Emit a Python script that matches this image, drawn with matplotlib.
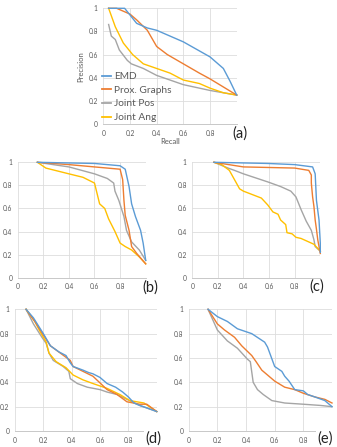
import matplotlib
matplotlib.use("Agg")
import matplotlib.pyplot as plt
from matplotlib.lines import Line2D

plt.rcParams['font.family'] = ['Lato', 'DejaVu Sans']

W, H = 337, 447
series_names = ["EMD", "Prox. Graphs", "Joint Pos", "Joint Ang"]
colors = ["#5B9BD5", "#ED7D31", "#A5A5A5", "#FFC000"]
tick_vals = [0, 0.2, 0.4, 0.6, 0.8, 1.0]
tick_labels = ["0", "0.2", "0.4", "0.6", "0.8", "1"]

# ---- panel (a) ----
a_emd_x = [0.04, 0.16, 0.25, 0.33, 0.40, 0.60, 0.80, 0.90, 0.95, 1.00]
a_emd_y = [1.00, 1.00, 0.87, 0.83, 0.81, 0.71, 0.58, 0.48, 0.37, 0.25]
a_prox_x = [0.04, 0.10, 0.20, 0.25, 0.33, 0.40, 0.48, 0.60, 0.72, 0.80, 0.90, 1.00]
a_prox_y = [1.00, 1.00, 0.95, 0.90, 0.81, 0.67, 0.60, 0.52, 0.44, 0.39, 0.32, 0.25]
a_pos_x = [0.04, 0.06, 0.09, 0.12, 0.18, 0.21, 0.30, 0.40, 0.60, 0.80, 1.00]
a_pos_y = [0.86, 0.76, 0.73, 0.64, 0.55, 0.52, 0.48, 0.42, 0.34, 0.29, 0.25]
a_ang_x = [0.04, 0.09, 0.15, 0.22, 0.30, 0.40, 0.50, 0.60, 0.72, 0.80, 0.90, 1.00]
a_ang_y = [1.00, 0.84, 0.70, 0.60, 0.52, 0.48, 0.44, 0.38, 0.35, 0.31, 0.27, 0.25]

# ---- panel (b) ----
b_emd_x = [0.154, 0.60, 0.80, 0.84, 0.87, 0.89, 0.92, 0.96, 0.98, 1.00]
b_emd_y = [1.00, 0.99, 0.97, 0.94, 0.79, 0.64, 0.53, 0.41, 0.30, 0.15]
b_prox_x = [0.154, 0.40, 0.60, 0.80, 0.82, 0.83, 0.84, 0.87, 0.89, 0.93, 1.00]
b_prox_y = [1.00, 0.98, 0.96, 0.94, 0.85, 0.67, 0.54, 0.41, 0.27, 0.21, 0.12]
b_pos_x = [0.154, 0.40, 0.60, 0.70, 0.75, 0.76, 0.79, 0.83, 0.85, 0.89, 0.95, 1.00]
b_pos_y = [1.00, 0.96, 0.90, 0.86, 0.82, 0.75, 0.67, 0.53, 0.41, 0.31, 0.24, 0.15]
b_ang_x = [0.154, 0.22, 0.40, 0.51, 0.60, 0.62, 0.64, 0.68, 0.71, 0.76, 0.80, 0.84, 0.89, 0.95, 1.00]
b_ang_y = [1.00, 0.95, 0.90, 0.87, 0.82, 0.73, 0.64, 0.60, 0.51, 0.40, 0.30, 0.27, 0.24, 0.18, 0.12]

# ---- panel (c) ----
c_emd_x = [0.17, 0.59, 0.80, 0.94, 0.96, 0.97, 0.99, 1.00, 1.00]
c_emd_y = [1.00, 0.99, 0.98, 0.96, 0.90, 0.67, 0.50, 0.30, 0.22]
c_prox_x = [0.17, 0.40, 0.80, 0.91, 0.93, 0.93, 0.94, 0.95, 0.96, 0.97, 0.98, 1.00]
c_prox_y = [1.00, 0.96, 0.95, 0.93, 0.89, 0.82, 0.70, 0.62, 0.50, 0.42, 0.33, 0.21]
c_pos_x = [0.17, 0.28, 0.33, 0.40, 0.59, 0.69, 0.77, 0.81, 0.85, 0.89, 0.93, 0.95, 0.96, 1.00]
c_pos_y = [1.00, 0.95, 0.93, 0.90, 0.83, 0.79, 0.75, 0.70, 0.59, 0.49, 0.41, 0.33, 0.27, 0.23]
c_ang_x = [0.17, 0.23, 0.29, 0.33, 0.37, 0.40, 0.47, 0.54, 0.59, 0.63, 0.67, 0.69, 0.73, 0.74,
           0.78, 0.81, 0.85, 0.89, 0.95, 1.00]
c_ang_y = [1.00, 0.98, 0.93, 0.85, 0.77, 0.75, 0.72, 0.69, 0.63, 0.57, 0.55, 0.50, 0.46, 0.39,
           0.38, 0.35, 0.34, 0.32, 0.29, 0.23]

# ---- panel (d) ----
d_emd_x = [0.078, 0.13, 0.20, 0.25, 0.31, 0.36, 0.39, 0.41, 0.48, 0.52, 0.55, 0.60, 0.65, 0.71,
           0.76, 0.80, 0.84, 0.88, 0.93, 1.00]
d_emd_y = [1.00, 0.93, 0.80, 0.70, 0.65, 0.62, 0.56, 0.53, 0.50, 0.48, 0.47, 0.44, 0.39, 0.36,
           0.32, 0.28, 0.23, 0.21, 0.19, 0.16]
d_prox_x = [0.078, 0.14, 0.20, 0.25, 0.32, 0.39, 0.41, 0.48, 0.55, 0.65, 0.72, 0.79, 0.88, 0.93, 1.00]
d_prox_y = [1.00, 0.90, 0.79, 0.70, 0.64, 0.58, 0.53, 0.49, 0.45, 0.34, 0.30, 0.24, 0.22, 0.22, 0.16]
d_pos_x = [0.078, 0.13, 0.19, 0.22, 0.24, 0.27, 0.34, 0.38, 0.39, 0.44, 0.51, 0.60, 0.65, 0.72,
           0.79, 0.88, 1.00]
d_pos_y = [1.00, 0.88, 0.77, 0.72, 0.64, 0.58, 0.53, 0.49, 0.43, 0.39, 0.36, 0.34, 0.32, 0.30,
           0.26, 0.21, 0.16]
d_ang_x = [0.078, 0.14, 0.18, 0.22, 0.24, 0.29, 0.36, 0.41, 0.48, 0.55, 0.65, 0.74, 0.81, 0.91, 1.00]
d_ang_y = [1.00, 0.90, 0.81, 0.73, 0.64, 0.57, 0.52, 0.46, 0.42, 0.39, 0.35, 0.30, 0.25, 0.23, 0.16]

# ---- panel (e) ----
e_emd_x = [0.135, 0.20, 0.27, 0.34, 0.44, 0.53, 0.55, 0.60, 0.65, 0.67, 0.70, 0.74, 0.80, 0.83,
           0.88, 0.95, 1.00]
e_emd_y = [1.00, 0.94, 0.90, 0.84, 0.80, 0.73, 0.69, 0.53, 0.49, 0.45, 0.41, 0.34, 0.33, 0.30,
           0.28, 0.25, 0.20]
e_prox_x = [0.135, 0.20, 0.25, 0.32, 0.37, 0.44, 0.47, 0.51, 0.55, 0.60, 0.67, 0.74, 0.80, 0.88,
            0.95, 1.00]
e_prox_y = [1.00, 0.88, 0.83, 0.77, 0.70, 0.62, 0.57, 0.50, 0.46, 0.41, 0.36, 0.34, 0.31, 0.28,
            0.26, 0.23]
e_pos_x = [0.135, 0.20, 0.27, 0.34, 0.41, 0.43, 0.45, 0.48, 0.52, 0.58, 0.67, 0.80, 0.92, 1.00]
e_pos_y = [1.00, 0.83, 0.74, 0.68, 0.59, 0.57, 0.40, 0.34, 0.30, 0.25, 0.23, 0.22, 0.21, 0.20]

panels = [
    ("(a)", (103.3, 236.7, 8.3, 124.0),
     [(a_emd_x, a_emd_y), (a_prox_x, a_prox_y), (a_pos_x, a_pos_y), (a_ang_x, a_ang_y)],
     (239.5, 134)),
    ("(b)", (17.7, 145.7, 162.3, 277.7),
     [(b_emd_x, b_emd_y), (b_prox_x, b_prox_y), (b_pos_x, b_pos_y), (b_ang_x, b_ang_y)],
     (150.5, 288)),
    ("(c)", (192.2, 320.3, 162.3, 277.7),
     [(c_emd_x, c_emd_y), (c_prox_x, c_prox_y), (c_pos_x, c_pos_y), (c_ang_x, c_ang_y)],
     (317, 287)),
    ("(d)", (15.0, 156.7, 309.3, 431.0),
     [(d_emd_x, d_emd_y), (d_prox_x, d_prox_y), (d_pos_x, d_pos_y), (d_ang_x, d_ang_y)],
     (153, 439)),
    ("(e)", (188.7, 332.0, 309.3, 431.0),
     [(e_emd_x, e_emd_y), (e_prox_x, e_prox_y), (e_pos_x, e_pos_y)],
     (325, 439)),
]

fig = plt.figure(figsize=(W / 100, H / 100), dpi=100)
fig.patch.set_facecolor("white")

grid_c = "#DDDDDD"
text_c = "#595959"

axes = []
for label, (x0, x1, y1, y0), data, (lx, ly) in panels:
    ax = fig.add_axes([x0 / W, 1 - y0 / H, (x1 - x0) / W, (y0 - y1) / H])
    ax.set_xlim(0, 1)
    ax.set_ylim(0, 1)
    ax.set_xticks(tick_vals)
    ax.set_yticks(tick_vals)
    ax.set_xticklabels(tick_labels[:-1] + [""])
    ax.set_yticklabels(tick_labels)
    ax.grid(True, color=grid_c, lw=0.6)
    ax.set_axisbelow(True)
    for s in ["top", "right", "left"]:
        ax.spines[s].set_visible(False)
    ax.spines["bottom"].set_color("#C8C8C8")
    ax.spines["bottom"].set_linewidth(0.7)
    ax.tick_params(length=0, labelsize=4.8, labelcolor=text_c, pad=4)
    order = [2, 3, 1, 0] if len(data) == 4 else [2, 1, 0]
    for i in order:
        xs, ys = data[i]
        ax.plot(xs, ys, color=colors[i], lw=1.0, clip_on=False, solid_joinstyle="round")
    fig.text(lx / W, 1 - ly / H, label, fontsize=10.5, color="#222222",
             ha="center", va="center",
             bbox=dict(facecolor="white", edgecolor="none", pad=0.6))
    axes.append(ax)

ax_a = axes[0]
ax_a.set_ylabel("Precision", fontsize=5.5, color=text_c, labelpad=3)
ax_a.set_xlabel("Recall", fontsize=5.5, color=text_c, labelpad=1)
handles = [Line2D([0], [0], color=c, lw=1.3) for c in colors]
leg = ax_a.legend(handles, series_names, loc="lower left", bbox_to_anchor=(-0.03, -0.01),
                  frameon=False, fontsize=7.3, labelcolor=text_c, handlelength=0.9,
                  handletextpad=0.25, labelspacing=0.45, borderaxespad=0.1,
                  borderpad=0.2)

fig.savefig("out.png", dpi=100, facecolor="white")
